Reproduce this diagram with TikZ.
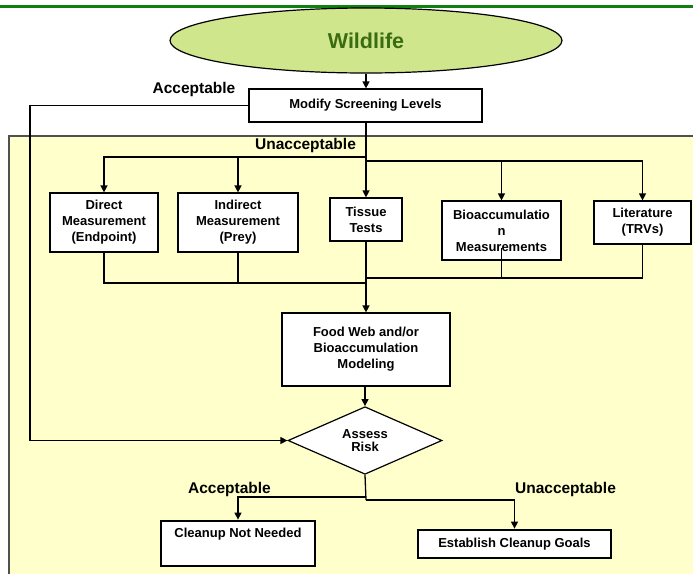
\documentclass[tikz,border=0pt]{standalone}
\usepackage{fontspec}
\setmainfont{Liberation Sans}
\usetikzlibrary{arrows.meta,shapes.geometric,calc}

\definecolor{topline}{RGB}{16,128,16}
\definecolor{leaf}{RGB}{208,230,140}
\definecolor{leafdark}{RGB}{58,108,18}
\definecolor{pale}{RGB}{255,255,204}
\definecolor{edge}{RGB}{80,80,80}

\tikzset{
  flow/.style={line width=1.3pt, draw=black},
  arr/.style={flow, -{Triangle[length=7pt,width=7pt]}},
  box/.style={draw, line width=1.2pt, fill=white, align=center, inner sep=0pt,
              font=\bfseries\fontsize{13}{16}\selectfont},
  endbox/.style={box, line width=2.8pt},
  decision/.style={diamond, draw, line width=1.2pt, fill=white, align=center, inner sep=0pt,
              font=\bfseries\fontsize{13}{13}\selectfont},
  lbl/.style={font=\bfseries\fontsize{15.5}{18}\selectfont, inner sep=0pt},
}

\begin{document}
\begin{tikzpicture}[x=1pt,y=-1pt]
  \useasboundingbox (0,0) rectangle (693,574);

  % header rule
  \draw[topline, line width=3pt] (0,6) -- (693,6);

  % shaded assessment panel
  \fill[pale] (9,136) rectangle (693,574);
  \draw[edge, line width=1.6pt] (9,574) -- (9,136) -- (693,136);

  % title ellipse
  \node[ellipse, draw, line width=1.2pt, fill=leaf, minimum width=392pt, minimum height=65pt,
        text=leafdark, font=\bfseries\fontsize{21.5}{24}\selectfont] (wild) at (366,40.5) {Wildlife};

  % process boxes
  \node[box, minimum width=233pt, minimum height=33pt] (modify) at (365.5,105.5) {Modify Screening Levels};
  \node[box, minimum width=108pt, minimum height=59pt] (direct) at (104,222.5) {Direct\\Measurement\\(Endpoint)};
  \node[box, minimum width=120pt, minimum height=59pt] (indirect) at (238,222.5) {Indirect\\Measurement\\(Prey)};
  \node[box, minimum width=72pt, minimum height=43pt] (tissue) at (366,219.5) {Tissue\\Tests};
  \node[box, minimum width=119pt, minimum height=59pt] (bio) at (501.5,230.5) {Bioaccumulatio\\n\\Measurements};
  \node[box, minimum width=97pt, minimum height=43pt] (lit) at (642.5,222.5) {Literature\\(TRVs)};
  \node[box, minimum width=168pt, minimum height=73pt] (food) at (366,349.5) {Food Web and/or\\Bioaccumulation\\Modeling};
  \node[decision, minimum width=154pt, minimum height=63pt] (risk) at (365,440.5) {Assess\\Risk};
  \node[endbox, minimum width=154pt, minimum height=45pt] (notneeded) at (238,543.5) {};
  \node[font=\bfseries\fontsize{13}{16}\selectfont, inner sep=0pt] (notneededtext) at (238,534) {Cleanup Not Needed};
  \node[endbox, minimum width=193pt, minimum height=28pt] (goals) at (514.5,544) {Establish Cleanup Goals};

  % decision labels
  \node[lbl] (acc1) at (194,89) {Acceptable};
  \node[lbl] (unacc1) at (305.5,145) {Unacceptable};
  \node[lbl] (acc2) at (229.5,489.5) {Acceptable};
  \node[lbl] (unacc2) at (565.5,489.5) {Unacceptable};

  % junction points
  \coordinate (jL) at (366,157);
  \coordinate (jR) at (366,161);
  \coordinate (mL) at (366,283);
  \coordinate (mR) at (366,278);
  \coordinate (bioT) at (501.5,248);
  \coordinate (accL) at (30,105.5);
  \coordinate (sL) at (366,497);
  \coordinate (sR) at (366,500);

  % top flow
  \draw[arr] (wild.south) -- (modify.north -| wild.south);
  \draw[arr] (modify.west) -- (accL) |- (risk.west);
  \draw[arr] (modify.south -| tissue.north) -- (tissue.north);

  % fan-out to the measurement options
  \draw[arr] (jL) -| (direct.north);
  \draw[arr] (indirect.north |- jL) -- (indirect.north);
  \draw[arr] (jR) -| (lit.north);
  \draw[arr] (bio.north |- jR) -- (bio.north);

  % gather into modeling
  \draw[flow] (direct.south) |- (mL);
  \draw[flow] (indirect.south) -- (indirect.south |- mL);
  \draw[flow] (lit.south) |- (mR);
  \draw[flow] (bioT) -- (bioT |- mR);
  \draw[arr] (tissue.south) -- (food.north);

  % risk decision
  \draw[arr] (food.south -| risk.north) -- (risk.north);
  \draw[flow] (risk.south) -- (sR);
  \draw[arr] (sL) -| (notneeded.north);
  \draw[arr] (sR) -| (goals.north);
\end{tikzpicture}
\end{document}
